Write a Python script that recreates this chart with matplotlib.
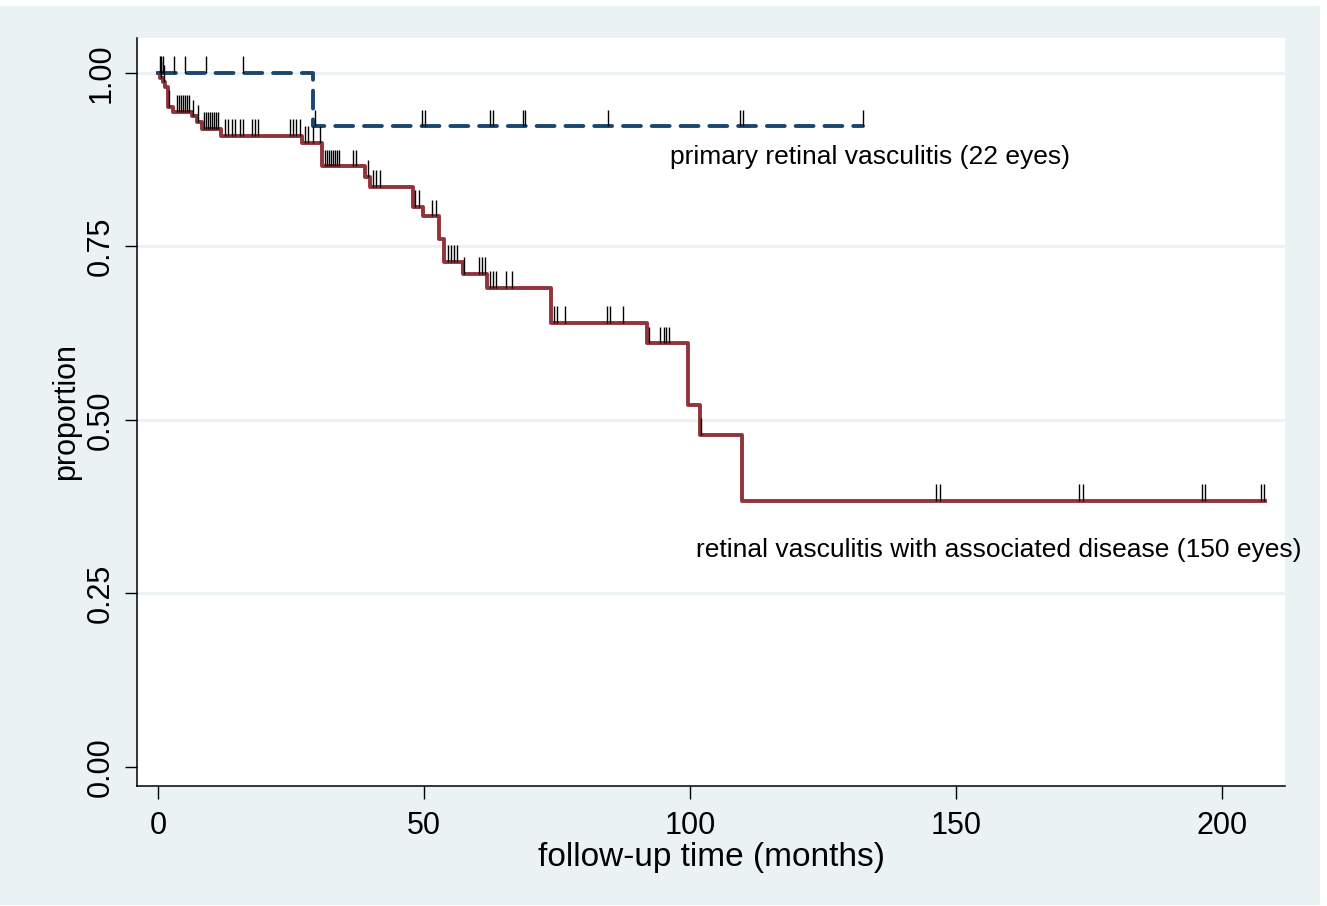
import numpy as np
import matplotlib.pyplot as plt
from matplotlib.patches import Rectangle

plt.rcParams['font.family'] = ['Liberation Sans', 'DejaVu Sans']

BG = '#eaf2f3'
RED = '#90353b'
BLUE = '#1a476f'

# retinal vasculitis with associated disease (150 eyes)
red_times = [0.4, 0.9, 1.4, 1.9, 2.8, 6.4, 7.3, 8.3, 11.8, 27.1, 30.8, 38.9, 39.8,
             47.9, 49.8, 52.8, 53.8, 57.3, 61.8, 73.9, 91.9, 99.6, 101.9, 109.8]
red_surv = [0.993, 0.987, 0.980, 0.951, 0.944, 0.937, 0.929, 0.919, 0.909, 0.899, 0.865,
            0.850, 0.836, 0.807, 0.793, 0.761, 0.728, 0.710, 0.690, 0.640, 0.610,
            0.522, 0.478, 0.383]
red_end = 208.0
red_censored = [0.3, 0.6, 1.1, 2.1, 3.6, 4.0, 4.3, 4.7, 5.1, 5.5, 5.8, 6.6, 7.5,
                8.6, 9.0, 9.4, 9.8, 10.2, 10.5, 10.9, 11.3, 12.6, 13.2, 13.9, 14.5,
                15.4, 16.0, 17.7, 18.2, 18.8, 24.8, 25.4, 25.9, 26.7, 27.6, 28.2,
                29.1, 30.5, 31.4, 31.8, 32.2, 32.5, 32.9, 33.3, 33.6, 34.0, 36.7,
                37.2, 39.5, 40.4, 41.0, 41.7, 48.3, 49.1, 51.5, 52.3, 54.5, 55.1,
                55.6, 56.2, 57.5, 60.3, 60.9, 61.5, 62.4, 63.0, 63.5, 65.4, 66.5,
                74.4, 75.0, 76.5, 84.4, 85.0, 87.4, 92.3, 94.4, 95.0, 95.5, 96.1,
                102.0, 146.2, 147.0, 173.1, 173.9, 196.2, 196.8, 207.3, 207.9]

# primary retinal vasculitis (22 eyes)
blue_times = [29.1]
blue_surv = [0.923]
blue_end = 132.5
blue_censored = [0.6, 1.0, 3.0, 5.1, 9.0, 16.0, 29.5, 49.6, 50.2, 62.4, 63.0,
                 68.6, 69.0, 84.6, 109.4, 110.0, 132.5]

x_ticks = [0, 50, 100, 150, 200]
y_ticks = [0.0, 0.25, 0.5, 0.75, 1.0]
y_ticklabels = ['0.00', '0.25', '0.50', '0.75', '1.00']


def km_curve(times, surv, end):
    xs = np.r_[0.0, times, end]
    ys = np.r_[1.0, surv, surv[-1]]
    return xs, ys


def level_at(times, surv, t):
    levels = np.r_[1.0, surv]
    idx = np.searchsorted(np.asarray(times), np.asarray(t), side='right')
    return levels[idx]


fig = plt.figure(figsize=(13.27, 9.06), dpi=100)
fig.patch.set_facecolor('white')
fig.patches.append(Rectangle((0, 1 - 905 / 906), 1320 / 1327, (905 - 6) / 906,
                             transform=fig.transFigure, facecolor=BG,
                             edgecolor='none', zorder=-10))

ax = fig.add_axes([137 / 1327, 1 - 786 / 906, (1285 - 137) / 1327, (786 - 38) / 906])
ax.set_facecolor('white')

for y in [0.25, 0.5, 0.75, 1.0]:
    ax.axhline(y, color=BG, lw=2.2, zorder=1)

tick_h = 0.024
lw_curve = 2.8
xs, ys = km_curve(red_times, red_surv, red_end)
ax.step(xs, ys, where='post', color=RED, lw=lw_curve, zorder=3)
lv = level_at(red_times, red_surv, red_censored)
ax.vlines(red_censored, lv, lv + tick_h, color='black', lw=1.0, zorder=4)

xs, ys = km_curve(blue_times, blue_surv, blue_end)
ax.step(xs, ys, where='post', color=BLUE, lw=lw_curve, linestyle=(0, (4.6, 2.8)),
        dash_capstyle='round', zorder=3)
lv = level_at(blue_times, blue_surv, blue_censored)
ax.vlines(blue_censored, lv, lv + tick_h, color='black', lw=1.0, zorder=4)

ax.text(96.2, 0.879, 'primary retinal vasculitis (22 eyes)', fontsize=19,
        va='center', ha='left')
ax.text(101.1, 0.313, 'retinal vasculitis with associated disease (150 eyes)',
        fontsize=19, va='center', ha='left')

ax.set_xlim(-3.95, 211.8)
ax.set_ylim(-0.0274, 1.050)
ax.set_xticks(x_ticks)
ax.set_yticks(y_ticks)
ax.set_yticklabels(y_ticklabels, rotation=90, va='center')
ax.tick_params(axis='both', labelsize=22, length=9, width=1, color='black', pad=6)
ax.tick_params(axis='x', pad=9)
ax.spines['top'].set_visible(False)
ax.spines['right'].set_visible(False)
for s in ['left', 'bottom']:
    ax.spines[s].set_linewidth(1.1)
    ax.spines[s].set_color('black')

ax.set_xlabel('follow-up time (months)', fontsize=24, labelpad=1)
ax.set_ylabel('proportion', fontsize=22, labelpad=4)

fig.savefig('out.png', dpi=100, facecolor=fig.get_facecolor())
